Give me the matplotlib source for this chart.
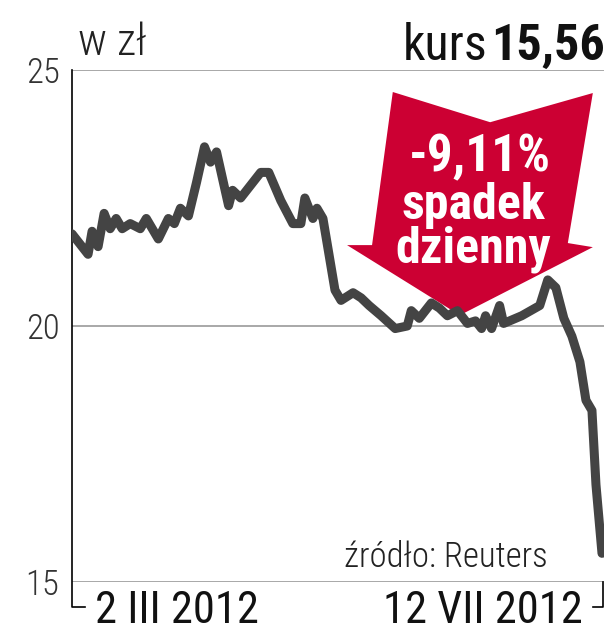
import matplotlib
matplotlib.use("Agg")
import matplotlib.pyplot as plt
from matplotlib.patches import Polygon
from matplotlib.lines import Line2D

# dni od 2 III 2012 i kurs w zł
days = [0, 4, 5, 6.5, 8, 9.5, 11, 12.5, 14.5, 17, 18.5, 21.5, 24, 25.5, 27, 29,
        31, 33, 34.5, 36, 39, 40, 42, 45, 47, 49, 52, 55, 57, 58, 60, 61, 62.5,
        64, 65.5, 67, 70, 72, 74, 77, 80.5, 83.5, 84.5, 86.5, 89.5, 91.5, 93.5,
        96, 98.5, 100.5, 102, 103, 104.5, 106.5, 107.5, 110.5, 112, 116.5,
        118.5, 120.5, 122.5, 124.5, 126.5, 128, 129.5, 130.5, 132]
price = [21.8, 21.4, 21.85, 21.55, 22.2, 21.9, 22.1, 21.9, 22.0, 21.9, 22.1,
         21.7, 22.1, 22.0, 22.3, 22.15, 22.8, 23.5, 23.2, 23.4, 22.35, 22.65,
         22.5, 22.8, 23.0, 23.0, 22.45, 22.0, 22.0, 22.5, 22.1, 22.3, 22.1,
         21.4, 20.7, 20.5, 20.65, 20.55, 20.4, 20.2, 19.95, 20.0, 20.3, 20.15,
         20.45, 20.35, 20.2, 20.3, 20.05, 20.1, 19.95, 20.2, 19.95, 20.4, 20.05,
         20.15, 20.2, 20.4, 20.9, 20.75, 20.15, 19.8, 19.3, 18.55, 18.35, 16.9,
         15.56]
y_ticks = [15, 20, 25]
date_labels = ["2 III 2012", "12 VII 2012"]

plt.rcParams["font.family"] = ["Roboto Condensed", "DejaVu Sans"]

fig = plt.figure(figsize=(6.11, 6.40), dpi=100)
ax = fig.add_axes([72 / 611, 1 - 582 / 640, 532 / 611, 512 / 640])
ax.set_xlim(0, 132.5)
ax.set_ylim(15, 25)

for v in y_ticks:
    ax.axhline(v, color="#9a9a9a", lw=1.2, zorder=1)

# czerwona strzałka
arrow = Polygon([(0.603, 0.957), (0.786, 0.898), (0.979, 0.955), (0.932, 0.662),
                 (0.979, 0.654), (0.729, 0.521), (0.517, 0.658), (0.564, 0.658)],
                closed=True, transform=ax.transAxes, facecolor="#cc0033",
                edgecolor="none", zorder=2)
ax.add_patch(arrow)
ax.text(0.767, 0.830, "-9,11%", transform=ax.transAxes, ha="center", va="center",
        color="white", fontsize=37, fontweight="bold", zorder=3)
ax.text(0.754, 0.736, "spadek", transform=ax.transAxes, ha="center", va="center",
        color="white", fontsize=36, fontweight="bold", zorder=3)
ax.text(0.754, 0.650, "dzienny", transform=ax.transAxes, ha="center", va="center",
        color="white", fontsize=36, fontweight="bold", zorder=3)

ax.plot(days, price, color="#444444", lw=6.5, solid_joinstyle="round",
        solid_capstyle="round", zorder=4)

for s in ["top", "right", "bottom", "left"]:
    ax.spines[s].set_visible(False)
ax.set_xticks([])
ax.set_yticks(y_ticks)
ax.set_yticklabels([str(v) for v in y_ticks])
ax.tick_params(axis="y", length=0, pad=9, labelsize=25, labelcolor="#333333")
for lab in ax.get_yticklabels():
    lab.set_fontweight("light")

# oś lewa i nawiasy dat
ax.add_line(Line2D([0, 0, 0.025], [1, -0.049, -0.049], transform=ax.transAxes,
                   color="black", lw=1.2, clip_on=False))
ax.add_line(Line2D([0.979, 0.998, 0.998], [-0.049, -0.049, 0.0],
                   transform=ax.transAxes, color="black", lw=1.2, clip_on=False))
ax.text(0.198, -0.057, date_labels[0], transform=ax.transAxes, ha="center",
        va="center", fontsize=32, color="#111111")
ax.text(0.772, -0.057, date_labels[1], transform=ax.transAxes, ha="center",
        va="center", fontsize=32, color="#111111")

ax.text(0.702, 0.029, "źródło: Reuters", transform=ax.transAxes, ha="center",
        va="baseline", fontsize=25, fontweight="light", color="#222222")

fig.text(78 / 611, 1 - 55 / 640, "w zł", ha="left", va="baseline", fontsize=32,
         fontweight="light", color="#222222")
fig.text(605 / 611, 1 - 60 / 640, "15,56", ha="right", va="baseline",
         fontsize=36, fontweight="bold", color="#111111")
fig.text(488 / 611, 1 - 60 / 640, "kurs", ha="right", va="baseline",
         fontsize=36, color="#111111")

fig.savefig("out.png", dpi=100)
